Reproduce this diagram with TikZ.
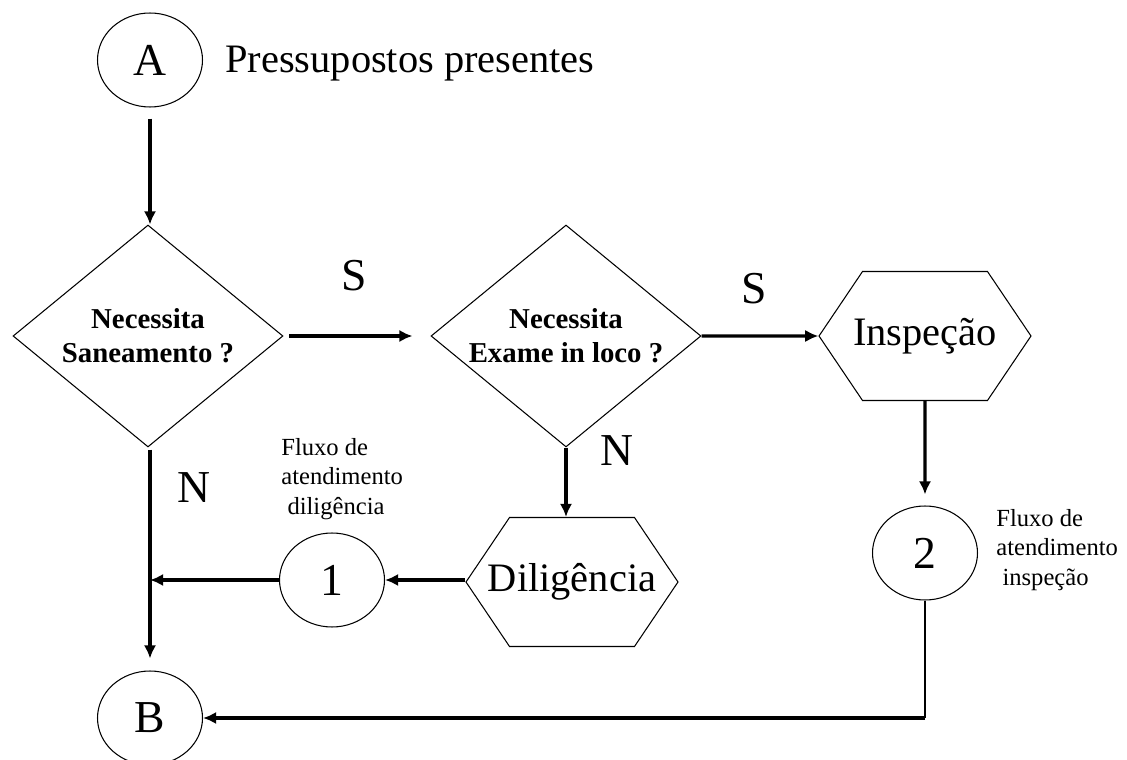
\documentclass[tikz,border=0pt]{standalone}
\usepackage{fontspec}
\setmainfont{Liberation Serif}
\usetikzlibrary{shapes.geometric,shapes.symbols,arrows.meta,positioning}

\newcommand{\hexbox}[1]{\makebox[2.5cm]{#1}}

\begin{document}
\begin{tikzpicture}[x=0.02cm,y=-0.02cm]
\tikzstyle{every node}+=[inner sep=0pt]
\tikzstyle{conector}=[draw,ellipse,line width=0.6pt,minimum width=2.1cm,minimum height=1.88cm,font=\fontsize{26}{30}\selectfont]
\tikzstyle{decisao}=[draw,diamond,aspect=1.25,line width=0.6pt,minimum width=5.4cm,minimum height=4.44cm,align=center,font=\fontsize{16.4}{19.3}\selectfont\bfseries]
\tikzstyle{processo}=[draw,signal,signal to=west and east,signal pointer angle=112,line width=0.6pt,minimum width=4.22cm,minimum height=2.58cm,font=\fontsize{23}{27}\selectfont]
\tikzstyle{rotulo}=[font=\fontsize{23}{27}\selectfont]
\tikzstyle{letra}=[font=\fontsize{26}{30}\selectfont]
\tikzstyle{nota}=[align=left,font=\fontsize{14}{16.7}\selectfont]
\tikzstyle{seta}=[line width=1.8pt,-{Latex[length=7.5pt,width=7pt]}]
\useasboundingbox (0,0) rectangle (1127,760);
% formas
\node[conector] (A) at (150,60) {A};
\node[rotulo,anchor=base west] (titulo) at (225,73) {Pressupostos presentes};
\node[decisao] (d1) at (148,336) {Necessita\\Saneamento ?};
\node[decisao] (d2) at (566,336) {Necessita\\Exame in loco ?};
\node[processo] (insp) at (925,336) {\hexbox{Inspeção}};
\node[conector] (c2) at (925,553) {2};
\node[processo] (dil) at (572,582) {\hexbox{Diligência}};
\node[conector] (c1) at (332,580) {1};
\node[conector] (B) at (150,718) {B};
% rotulos
\node[letra] (s1) at (354,276) {S};
\node[letra] (s2) at (754,289) {S};
\node[letra] (n1) at (194,488) {N};
\node[letra] (n2) at (617,451) {N};
\node[nota,anchor=west] (nota1) at (281,479) {Fluxo de\\atendimento\\\hspace*{.25em}diligência};
\node[nota,anchor=west] (nota2) at (996,550) {Fluxo de\\atendimento\\\hspace*{.25em}inspeção};
% ligacoes
\draw[seta,shorten <=0.22cm] (A.south) -- (A.south |- d1.north);
\draw[seta,shorten <=0.12cm,shorten >=0.36cm] (d1) -- (d2);
\draw[seta] (d2) -- (insp);
\draw[seta,shorten >=0.22cm] (insp) -- (c2);
\draw[seta] (d2.south) -- (d2.south |- dil.north);
\draw[seta] (dil.west |- c1.east) -- (c1.east);
\coordinate (juncao) at (A.south |- c1.west);
\draw[seta] (c1) -- (juncao);
\draw[seta,shorten <=0.04cm,shorten >=0.24cm] (A.south |- d1.south) -- (B.north);
\coordinate (canto) at (c2.south |- B.east);
\draw[line width=0.9pt] (c2.south) -- (canto);
\draw[seta] (canto) -- (B.east);
\end{tikzpicture}
\end{document}
